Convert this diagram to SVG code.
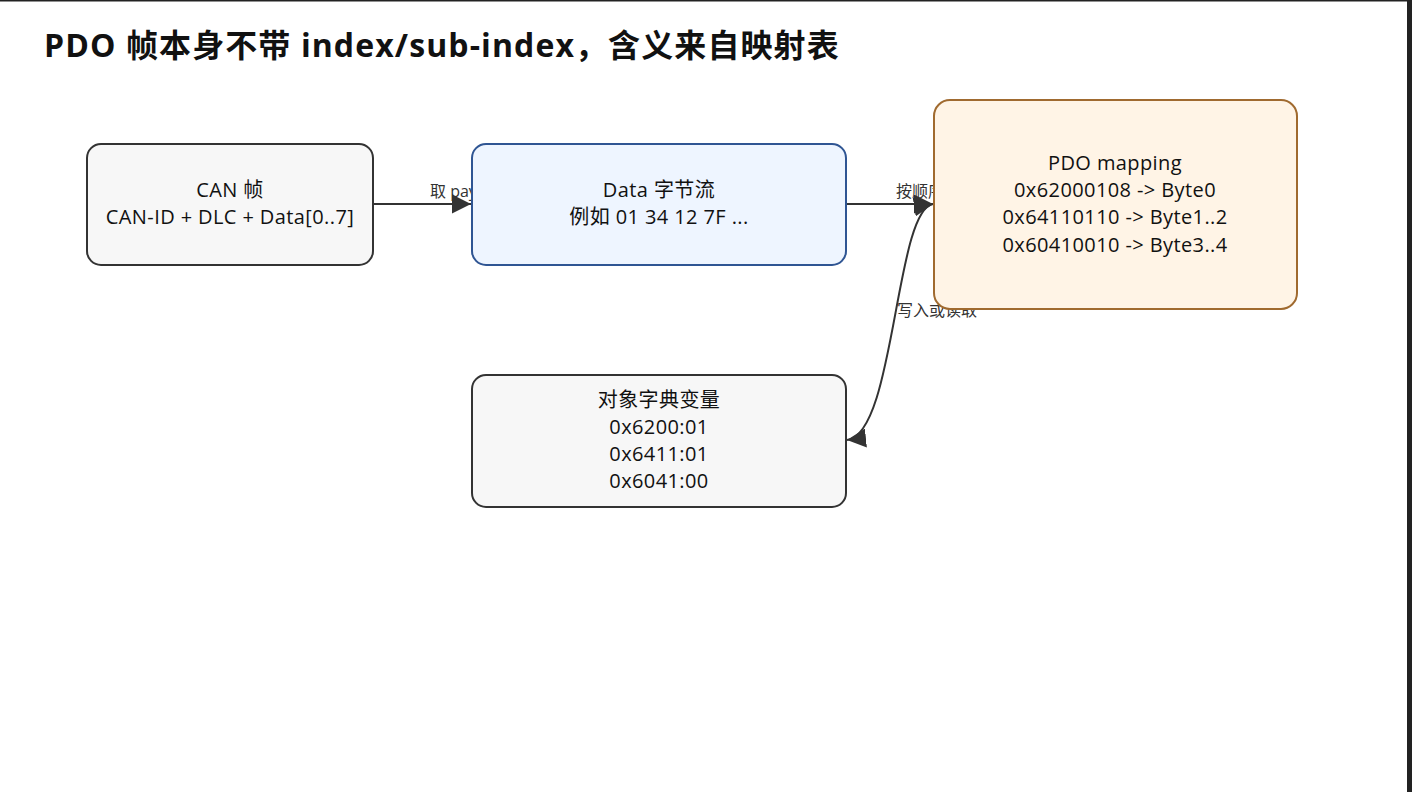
<svg xmlns="http://www.w3.org/2000/svg" width="1412" height="792" viewBox="0 0 1412 792">
<style>
.bg{fill:#ffffff}
.title{font-family:"Open Sans","Noto Sans CJK SC",sans-serif;font-weight:bold;font-size:32px;letter-spacing:1.1px;fill:#111}
.node rect{stroke-width:2}
.gray rect{fill:#f7f7f7;stroke:#333}
.blue rect{fill:#eef5ff;stroke:#2f5593}
.orange rect{fill:#fff4e6;stroke:#a06a2f}
.nt{font-family:"Open Sans","Noto Sans CJK SC",sans-serif;font-size:20px;letter-spacing:0.4px;fill:#111;text-anchor:middle}
.edge{fill:none;stroke:#333;stroke-width:2}
.el{font-family:"Open Sans","Noto Sans CJK SC",sans-serif;font-size:16px;fill:#333}
</style>
<defs>
<marker id="arr" markerUnits="userSpaceOnUse" markerWidth="19" markerHeight="19" refX="19" refY="9.5" orient="auto-start-reverse">
<path d="M0,0 L19,9.5 L0,19 z" fill="#333"/>
</marker>
</defs>
<rect class="bg" x="0" y="0" width="1412" height="792"/>
<rect x="0" y="0" width="1412" height="1.5" fill="#222"/>
<rect x="1407" y="0" width="5" height="792" fill="#222"/>
<text class="title" x="44" y="57">PDO 帧本身不带 index/sub-index，含义来自映射表</text>
<g id="connectors">
<text class="el" x="430" y="197">取 payload</text>
<text class="el" x="896" y="197">按顺序解析</text>
<text class="el" x="897" y="316">写入或读取</text>
<path class="edge" d="M373,204 L471,204" marker-end="url(#arr)"/>
<path class="edge" d="M846,204 L933,204" marker-end="url(#arr)"/>
<path class="edge" d="M933,204 C895,210 895,435 847,440" marker-start="url(#arr)" marker-end="url(#arr)"/>
</g>
<g id="node-can" class="node gray">
<rect x="87" y="144" width="286" height="121" rx="14"/>
<text class="nt" x="230" y="197">CAN 帧</text>
<text class="nt" x="230" y="224">CAN-ID + DLC + Data[0..7]</text>
</g>
<g id="node-data" class="node blue">
<rect x="472" y="144" width="374" height="121" rx="14"/>
<text class="nt" x="659" y="197">Data 字节流</text>
<text class="nt" x="659" y="224">例如 01 34 12 7F ...</text>
</g>
<g id="node-pdo" class="node orange">
<rect x="934" y="100" width="363" height="209" rx="16"/>
<text class="nt" x="1115" y="170">PDO mapping</text>
<text class="nt" x="1115" y="197">0x62000108 -&gt; Byte0</text>
<text class="nt" x="1115" y="224">0x64110110 -&gt; Byte1..2</text>
<text class="nt" x="1115" y="252">0x60410010 -&gt; Byte3..4</text>
</g>
<g id="node-obj" class="node gray">
<rect x="472" y="375" width="374" height="132" rx="14"/>
<text class="nt" x="659" y="407">对象字典变量</text>
<text class="nt" x="659" y="434">0x6200:01</text>
<text class="nt" x="659" y="461">0x6411:01</text>
<text class="nt" x="659" y="488">0x6041:00</text>
</g>
</svg>
